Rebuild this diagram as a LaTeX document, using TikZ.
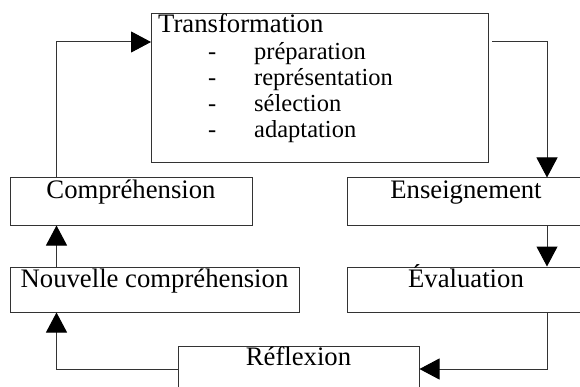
\documentclass[tikz,border=0pt]{standalone}
\usepackage{fontspec}
\setmainfont{Liberation Serif}
\usetikzlibrary{arrows.meta, calc}

\begin{document}
\begin{tikzpicture}[x=1pt, y=-1pt,
        box/.style={draw=black!80, line width=1pt, inner sep=0pt, anchor=base, font=\fontsize{26.7}{32}\selectfont},
        listitem/.style={anchor=base west, inner sep=0pt, font=\fontsize{24.5}{29}\selectfont},
        arr/.style={draw=black!80, line width=1pt, -{Triangle[length=20pt, width=21pt, color=black]}}]
        \useasboundingbox (0,0) rectangle (580,387);

        \node[draw=black!80, line width=1pt, minimum width=337pt, minimum height=149pt, anchor=north west] (trans) at (151,13) {};
        \node[anchor=base west, inner sep=0pt, font=\fontsize{26.7}{32}\selectfont] (ttl) at (158,33) {Transformation};
        \foreach \word [count=\i from 0] in {préparation, représentation, sélection, adaptation}
            \node[listitem] (it\i) at (208,{60+25.7*\i}) {\makebox[46pt][l]{-}\word};

        \node[box, minimum width=242pt, text height=21pt, text depth=26pt] (compr) at (131,199) {Compréhension};
        \node[box, minimum width=238pt, text height=21pt, text depth=26pt] (ens) at (466,199) {Enseignement};
        \node[box, minimum width=289pt, text height=20pt, text depth=25pt] (nouv) at (154.5,287) {Nouvelle compréhension};
        \node[box, minimum width=238pt, text height=20pt, text depth=25pt] (eval) at (466,287) {Évaluation};
        \node[box, minimum width=241pt, text height=19pt, text depth=40pt] (refl) at (298.5,365) {Réflexion};

        \draw[arr] ([xshift=47pt]compr.north west) |- ([yshift=-29pt]trans.north west);
        \draw[arr, shorten <=3pt] ([yshift=-29pt]trans.north east) -| ([xshift=81pt]ens.north);
        \draw[arr] ([xshift=81pt]ens.south) -- ([xshift=81pt]eval.north);
        \draw[arr] ([xshift=81pt]eval.south) |- ([yshift=-4pt]refl.base east);
        \draw[arr] ([yshift=-4pt]refl.base west) -| ([xshift=47pt]nouv.south west);
        \draw[arr] ([xshift=47pt]nouv.north west) -- ([xshift=47pt]compr.south west);
\end{tikzpicture}
\end{document}
